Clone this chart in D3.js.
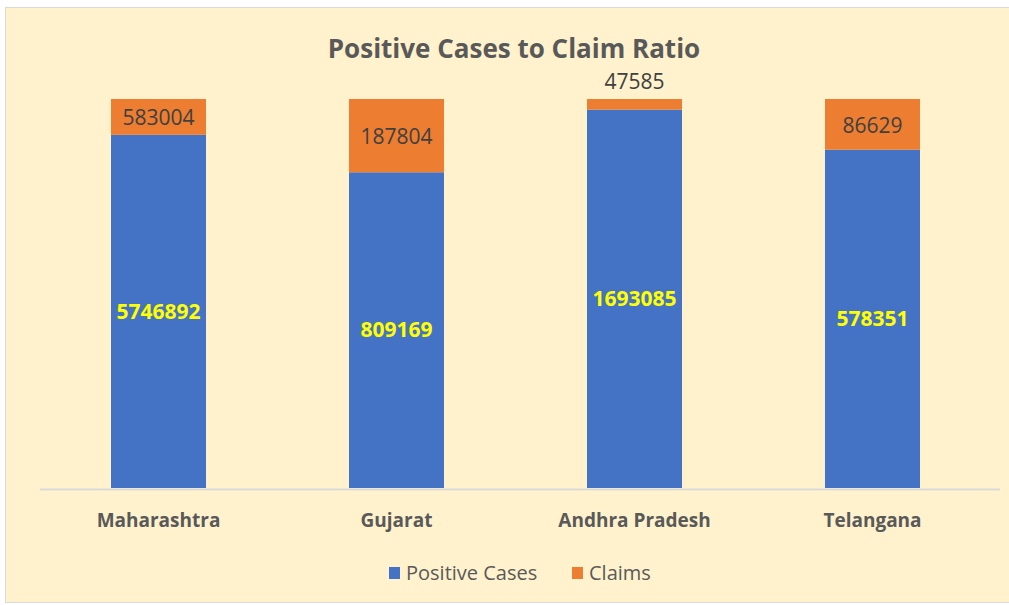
<!DOCTYPE html>
<html>
<head>
<style>
  body { margin: 0; background: #fff; }
  text { font-family: "Open Sans", "Noto Sans", sans-serif; }
</style>
</head>
<body>
<svg width="1009" height="605"></svg>
<script src="https://d3js.org/d3.v7.min.js"></script>
<script>

// data
var states = ["Maharashtra", "Gujarat", "Andhra Pradesh", "Telangana"];
var positiveCases = [5746892, 809169, 1693085, 578351];
var claims = [583004, 187804, 47585, 86629];
var seriesNames = ["Positive Cases", "Claims"];
var seriesColors = ["#4472C4", "#ED7D31"];

var svg = d3.select("svg");

// chart background
svg.append("rect")
  .attr("x", 5.5)
  .attr("y", 7.5)
  .attr("width", 1010)
  .attr("height", 595)
  .attr("fill", "#FFF2CC")
  .attr("stroke", "#d9d9d9");

svg.append("text")
  .attr("x", 514)
  .attr("y", 58)
  .attr("text-anchor", "middle")
  .attr("font-size", 26)
  .attr("font-weight", "bold")
  .attr("fill", "#595959")
  .text("Positive Cases to Claim Ratio");

var rows = states.map(function(s, i) {
  var total = positiveCases[i] + claims[i];
  return { state: s, pos: positiveCases[i], claims: claims[i],
           posShare: positiveCases[i] / total, claimShare: claims[i] / total };
});

var x = d3.scaleBand()
  .domain(states)
  .range([39.6, 991.4])
  .paddingInner(0.6008)
  .paddingOuter(0.3);

var y = d3.scaleLinear()
  .domain([0, 1])
  .range([488, 99]);

var stack = d3.stack().keys(["posShare", "claimShare"]);
var layers = stack(rows);

var g = svg.append("g");

g.selectAll("g.layer")
  .data(layers)
  .enter().append("g")
  .attr("class", "layer")
  .attr("fill", function(d, i) { return seriesColors[i]; })
  .selectAll("rect")
  .data(function(d) { return d; })
  .enter().append("rect")
  .attr("x", function(d) { return x(d.data.state); })
  .attr("y", function(d) { return y(d[1]); })
  .attr("width", x.bandwidth())
  .attr("height", function(d) { return y(d[0]) - y(d[1]); });

// axis line
svg.append("line")
  .attr("x1", 40)
  .attr("x2", 1000)
  .attr("y1", 489.5)
  .attr("y2", 489.5)
  .attr("stroke", "#d9d9d9")
  .attr("stroke-width", 2);

// category labels
var xAxis = svg.append("g")
  .attr("transform", "translate(0,489)")
  .call(d3.axisBottom(x).tickSize(0).tickPadding(25));
xAxis.select(".domain").remove();
xAxis.selectAll("text")
  .attr("font-size", 19)
  .attr("font-weight", "bold")
  .attr("fill", "#595959")
  .attr("font-family", "Open Sans, sans-serif");

// labels in blue bars
g.selectAll("text.pos")
  .data(layers[0])
  .enter().append("text")
  .attr("class", "pos")
  .attr("x", function(d) { return x(d.data.state) + x.bandwidth() / 2; })
  .attr("y", function(d) { return (y(d[0]) + y(d[1])) / 2; })
  .attr("dy", "0.35em")
  .attr("text-anchor", "middle")
  .attr("font-size", 21)
  .attr("font-weight", "bold")
  .attr("fill", "#FFFF00")
  .text(function(d) { return d.data.pos; });

// labels in orange bars
g.selectAll("text.claim")
  .data(layers[1])
  .enter().append("text")
  .attr("class", "claim")
  .attr("x", function(d) { return x(d.data.state) + x.bandwidth() / 2; })
  .attr("y", function(d) {
    var h = y(d[0]) - y(d[1]);
    return h < 20 ? y(d[1]) - 17 : (y(d[0]) + y(d[1])) / 2 + 1;
  })
  .attr("dy", "0.35em")
  .attr("text-anchor", "middle")
  .attr("font-size", 21)
  .attr("fill", "#404040")
  .text(function(d) { return d.data.claims; });

// legend
var legendX = [389, 572];
var legend = svg.append("g")
  .attr("transform", "translate(0,573)");
var items = legend.selectAll("g")
  .data(seriesNames)
  .enter().append("g")
  .attr("transform", function(d, i) { return "translate(" + legendX[i] + ",0)"; });
items.append("rect")
  .attr("x", 0)
  .attr("y", -6)
  .attr("width", 11)
  .attr("height", 12)
  .attr("fill", function(d, i) { return seriesColors[i]; });
items.append("text")
  .attr("x", 17)
  .attr("dy", "0.35em")
  .attr("font-size", 20)
  .attr("fill", "#595959")
  .text(function(d) { return d; });

</script>
</body>
</html>
